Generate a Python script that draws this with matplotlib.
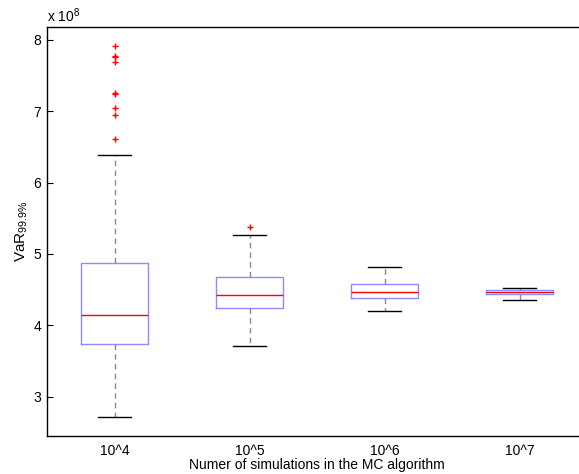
import matplotlib
matplotlib.use("Agg")
import matplotlib.pyplot as plt

plt.rcParams['font.family'] = ['Liberation Sans', 'DejaVu Sans']
plt.rcParams['mathtext.fontset'] = 'custom'
plt.rcParams['mathtext.rm'] = 'Liberation Sans'
plt.rcParams['mathtext.it'] = 'Liberation Sans:italic'

# VaR values in units of 1e8
labels = ['10^4', '10^5', '10^6', '10^7']
whislo = [2.71, 3.71, 4.20, 4.355]
q1 = [3.74, 4.24, 4.39, 4.438]
med = [4.14, 4.42, 4.465, 4.461]
q3 = [4.87, 4.675, 4.578, 4.495]
whishi = [6.39, 5.27, 4.815, 4.52]
fliers = [
    [7.91, 7.78, 7.76, 7.69, 7.25, 7.24, 7.04, 6.95, 6.61],
    [5.38],
    [],
    [],
]

stats = []
for i in range(len(labels)):
    stats.append(dict(label=labels[i], whislo=whislo[i], q1=q1[i], med=med[i],
                      q3=q3[i], whishi=whishi[i], fliers=fliers[i]))

fig = plt.figure(figsize=(5.79, 4.74), dpi=100)
ax = fig.add_axes([47 / 579, 38 / 474, 540 / 579, 409 / 474])

ax.bxp(stats, positions=[1, 2, 3, 4], widths=0.5,
       boxprops=dict(color='#8c8cff', linewidth=1.0),
       medianprops=dict(color='red', linewidth=1.0),
       whiskerprops=dict(color='#8a8a8a', linewidth=1.0, linestyle=(0, (4, 3))),
       capprops=dict(color='black', linewidth=1.0),
       flierprops=dict(marker='+', markeredgecolor='red', markersize=5,
                       markeredgewidth=1.0, linestyle='none'))

ax.set_xlim(0.5, 4.5)
ax.set_ylim(2.45, 8.18)
ax.set_yticks([3, 4, 5, 6, 7, 8])
ax.set_yticklabels(['3', '4', '5', '6', '7', '8'])
ax.tick_params(axis='y', direction='in', length=4, labelsize=10, pad=4)
ax.tick_params(axis='x', length=0, labelsize=10, pad=6)

for s in ax.spines.values():
    s.set_linewidth(1.0)

ax.text(0.0, 1.004, r'x 10$^{8}$', transform=ax.transAxes, fontsize=10,
        ha='left', va='bottom')
ax.set_ylabel(r'VaR$_{\mathrm{99.9\%}}$', fontsize=11, labelpad=3)
ax.set_xlabel('Numer of simulations in the MC algorithm', fontsize=10,
              labelpad=0)

fig.savefig('out.png', dpi=100)
